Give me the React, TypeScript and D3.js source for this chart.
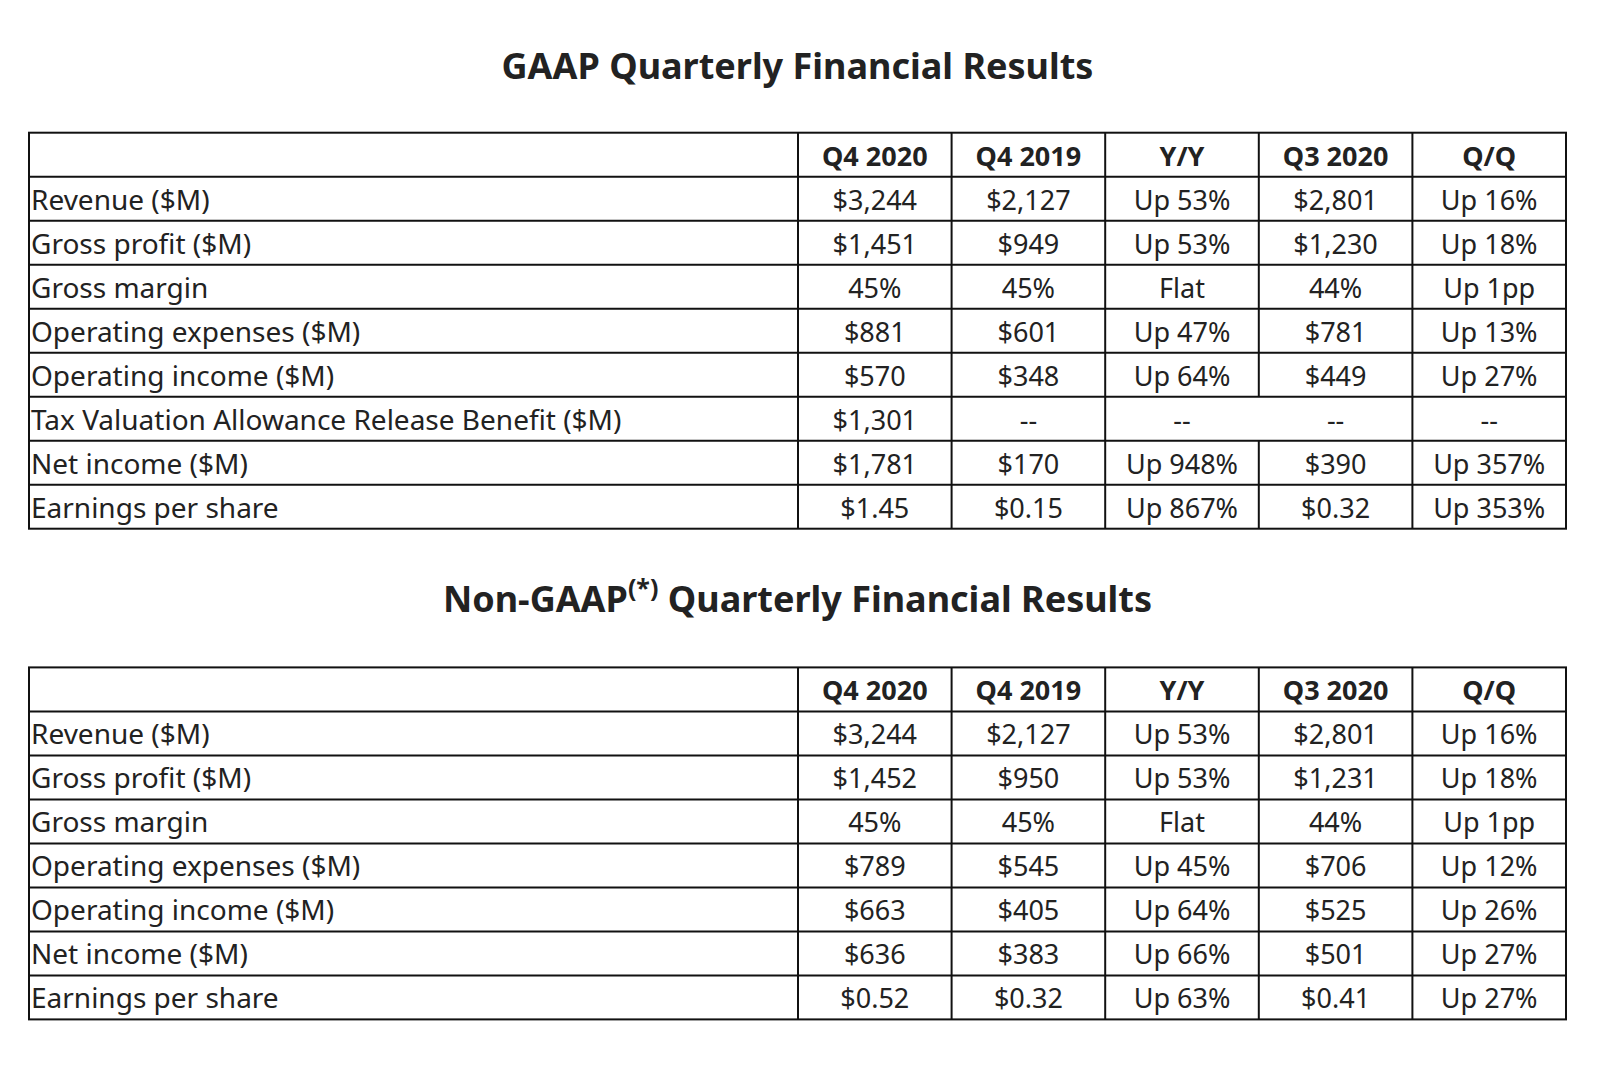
import React from 'react';
import * as d3 from 'd3';

const columns = ['Q4 2020', 'Q4 2019', 'Y/Y', 'Q3 2020', 'Q/Q'];

const gaapLabels = [
  'Revenue ($M)',
  'Gross profit ($M)',
  'Gross margin',
  'Operating expenses ($M)',
  'Operating income ($M)',
  'Tax Valuation Allowance Release Benefit ($M)',
  'Net income ($M)',
  'Earnings per share',
];
const gaapQ42020 = ['$3,244', '$1,451', '45%', '$881', '$570', '$1,301', '$1,781', '$1.45'];
const gaapQ42019 = ['$2,127', '$949', '45%', '$601', '$348', '--', '$170', '$0.15'];
const gaapYY = ['Up 53%', 'Up 53%', 'Flat', 'Up 47%', 'Up 64%', '--', 'Up 948%', 'Up 867%'];
const gaapQ32020 = ['$2,801', '$1,230', '44%', '$781', '$449', '--', '$390', '$0.32'];
const gaapQQ = ['Up 16%', 'Up 18%', 'Up 1pp', 'Up 13%', 'Up 27%', '--', 'Up 357%', 'Up 353%'];

const nonGaapLabels = [
  'Revenue ($M)',
  'Gross profit ($M)',
  'Gross margin',
  'Operating expenses ($M)',
  'Operating income ($M)',
  'Net income ($M)',
  'Earnings per share',
];
const nonGaapQ42020 = ['$3,244', '$1,452', '45%', '$789', '$663', '$636', '$0.52'];
const nonGaapQ42019 = ['$2,127', '$950', '45%', '$545', '$405', '$383', '$0.32'];
const nonGaapYY = ['Up 53%', 'Up 53%', 'Flat', 'Up 45%', 'Up 64%', 'Up 66%', 'Up 63%'];
const nonGaapQ32020 = ['$2,801', '$1,231', '44%', '$706', '$525', '$501', '$0.41'];
const nonGaapQQ = ['Up 16%', 'Up 18%', 'Up 1pp', 'Up 12%', 'Up 26%', 'Up 27%', 'Up 27%'];

// cells whose right border is not drawn: [row label, column]
const gaapOpenBorders = [['Tax Valuation Allowance Release Benefit ($M)', 'Y/Y']];

const FONT = '"Noto Sans", "Open Sans", sans-serif';
const TEXT = '#222';
const LINE = '#111';

const tableLeft = 29;
const labelRight = 798;
const tableRight = 1566;
const rowH = 44;

function Table({ top, labels, values, openBorders = [] }: any) {
  const rowKeys = ['__header', ...labels];
  const y = d3.scaleBand<string>().domain(rowKeys).range([top, top + rowH * rowKeys.length]);
  const x = d3.scaleBand<string>().domain(columns).range([labelRight, tableRight]);
  const bottom = top + rowH * rowKeys.length;

  const isOpen = (label: string, col: string) =>
    openBorders.some((b: string[]) => b[0] === label && b[1] === col);

  const vLines: any[] = [];
  rowKeys.forEach((rk) => {
    const y0 = y(rk)!;
    const y1 = y0 + y.bandwidth();
    columns.slice(0, -1).forEach((c) => {
      if (!isOpen(rk, c)) {
        const xx = x(c)! + x.bandwidth();
        vLines.push(<line key={rk + c} x1={xx} x2={xx} y1={y0} y2={y1} />);
      }
    });
  });

  return (
    <g>
      <g stroke={LINE} strokeWidth={2} fill="none">
        <rect x={tableLeft} y={top} width={tableRight - tableLeft} height={bottom - top} />
        <line x1={labelRight} x2={labelRight} y1={top} y2={bottom} />
        {rowKeys.slice(1).map((rk) => (
          <line key={rk} x1={tableLeft} x2={tableRight} y1={y(rk)} y2={y(rk)} />
        ))}
        {vLines}
      </g>
      <g fontFamily={FONT} fontSize={27} fill={TEXT}>
        {columns.map((c) => (
          <text key={c} x={x(c)! + x.bandwidth() / 2} y={y('__header')! + 33} textAnchor="middle" fontWeight={700}>
            {c}
          </text>
        ))}
        {labels.map((l: string, i: number) => (
          <g key={l}>
            <text x={tableLeft + 2} y={y(l)! + 33} fontSize={28}>{l}</text>
            {columns.map((c, j) => (
              <text key={c} x={x(c)! + x.bandwidth() / 2} y={y(l)! + 33} textAnchor="middle">
                {values[j][i]}
              </text>
            ))}
          </g>
        ))}
      </g>
    </g>
  );
}

export default function App() {
  const cx = (tableLeft + tableRight) / 2;
  return (
    <svg width={1600} height={1070} style={{ position: 'absolute', left: 0, top: 0, background: '#fff' }}>
      <rect width={1600} height={1070} fill="#fff" />
      <text x={cx} y={79} textAnchor="middle" fontFamily={FONT} fontWeight={700} fontSize={36} fill={TEXT}>
        GAAP Quarterly Financial Results
      </text>
      <Table
        top={132.7}
        labels={gaapLabels}
        values={[gaapQ42020, gaapQ42019, gaapYY, gaapQ32020, gaapQQ]}
        openBorders={gaapOpenBorders}
      />
      <text x={cx} y={612} textAnchor="middle" fontFamily={FONT} fontWeight={700} fontSize={36} fill={TEXT}>
        Non-GAAP
        <tspan fontSize={25} dy={-15}>(*)</tspan>
        <tspan dy={15}> Quarterly Financial Results</tspan>
      </text>
      <Table
        top={667.4}
        labels={nonGaapLabels}
        values={[nonGaapQ42020, nonGaapQ42019, nonGaapYY, nonGaapQ32020, nonGaapQQ]}
      />
    </svg>
  );
}
